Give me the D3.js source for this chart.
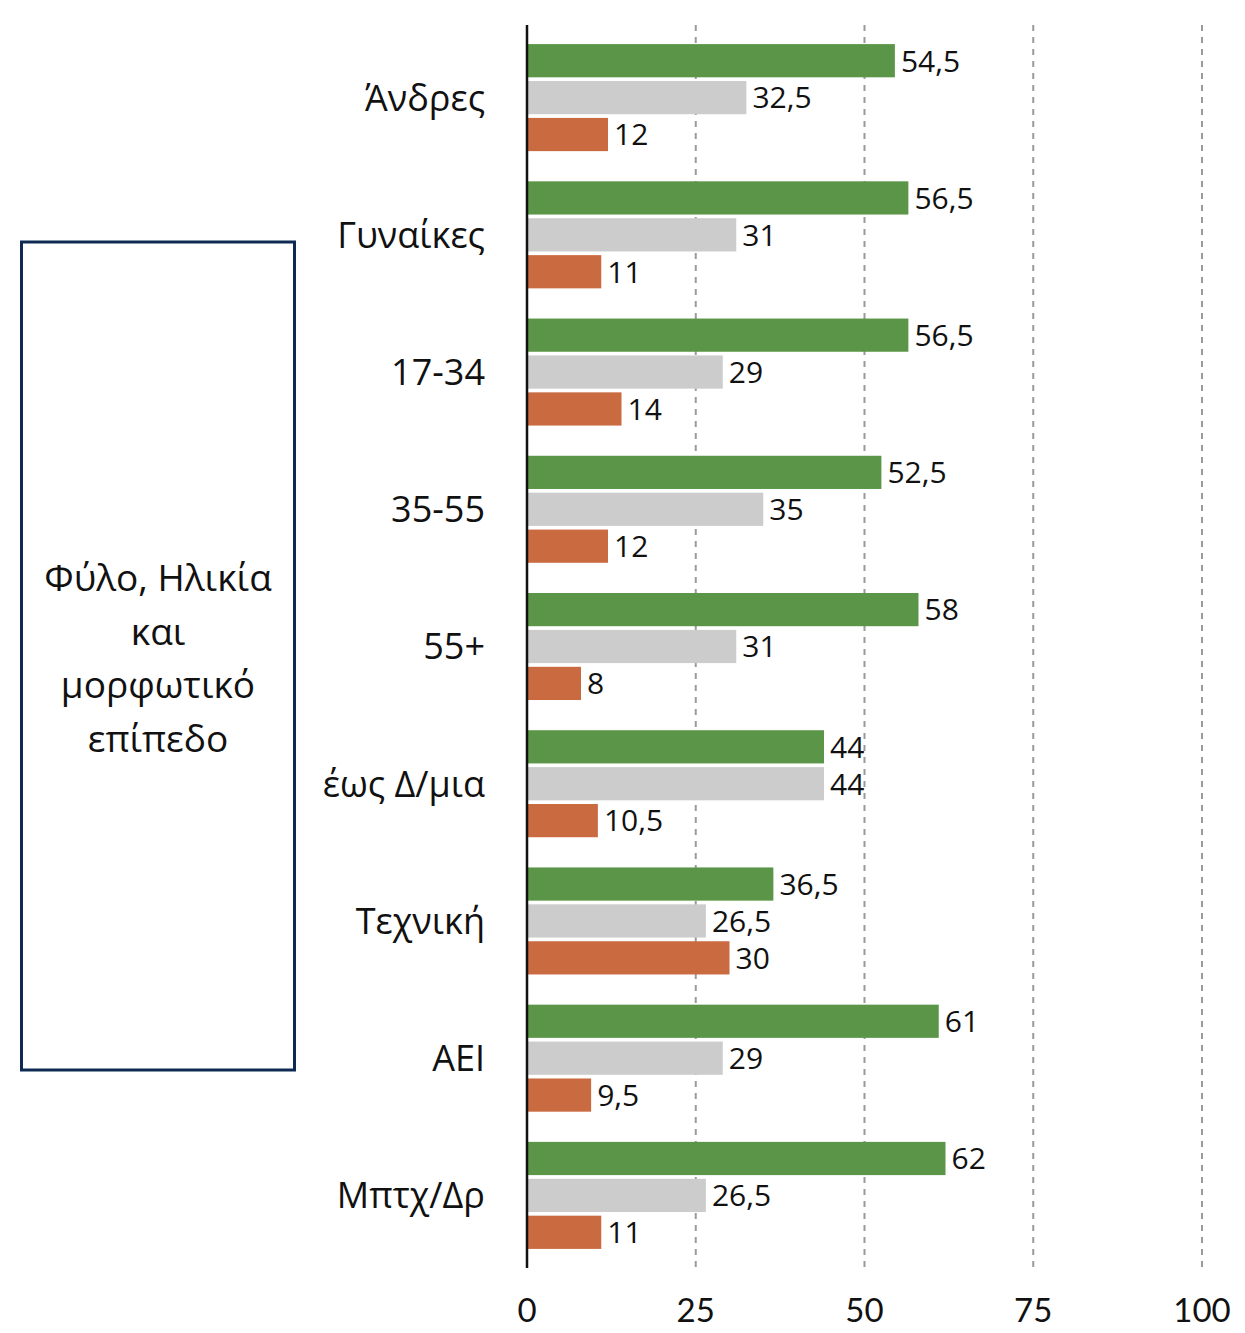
<!DOCTYPE html>
<html>
<head>
<meta charset="utf-8">
<script src="https://cdn.jsdelivr.net/npm/d3@7"></script>
<style>
  body { margin: 0; background: #fff; }
  text { font-family: "Open Sans", Lato, sans-serif; fill: #111; }
  text.tick { font-family: Lato, sans-serif; }
</style>
</head>
<body>
<div id="chart"></div>
<script>
var categories = ["Άνδρες", "Γυναίκες", "17-34", "35-55", "55+", "έως Δ/μια", "Τεχνική", "ΑΕΙ", "Μπτχ/Δρ"];
var series = ["a", "b", "c"];
var greenValues = [54.5, 56.5, 56.5, 52.5, 58, 44, 36.5, 61, 62];
var grayValues = [32.5, 31, 29, 35, 31, 44, 26.5, 29, 26.5];
var orangeValues = [12, 11, 14, 12, 8, 10.5, 30, 9.5, 11];
var ticks = [0, 25, 50, 75, 100];
var boxLines = ["Φύλο, Ηλικία", "και", "μορφωτικό", "επίπεδο"];

function draw() {
    var w = 1245;
    var h = 1333;
    var colors = { a: "#5b9648", b: "#cccccc", c: "#c96a40" };

    var svg = d3.select("#chart")
        .append("svg")
        .attr("width", w)
        .attr("height", h);

    var x = d3.scaleLinear().domain([0, 100]).range([527, 1202]);

    var y0 = d3.scaleBand()
        .domain(categories)
        .range([29, 1264])
        .paddingInner(0.22)
        .paddingOuter(0.11);

    var y1 = d3.scaleBand()
        .domain(series)
        .range([0, y0.bandwidth()])
        .paddingInner(0.1);

    // grid lines
    svg.selectAll(".grid")
        .data(ticks.slice(1))
        .enter()
        .append("line")
        .attr("x1", function (d) { return x(d); })
        .attr("x2", function (d) { return x(d); })
        .attr("y1", 25)
        .attr("y2", 1268)
        .attr("stroke", "#9a9a9a")
        .attr("stroke-width", 2)
        .attr("stroke-dasharray", "6,6");

    var rows = categories.map(function (c, i) {
        return { cat: c, vals: [
            { s: "a", v: greenValues[i] },
            { s: "b", v: grayValues[i] },
            { s: "c", v: orangeValues[i] }
        ] };
    });

    var fmt = function (v) { return String(v).replace(".", ","); };

    var g = svg.selectAll(".grp")
        .data(rows)
        .enter()
        .append("g")
        .attr("transform", function (d) { return "translate(0," + y0(d.cat) + ")"; });

    g.selectAll("rect")
        .data(function (d) { return d.vals; })
        .enter()
        .append("rect")
        .attr("x", x(0))
        .attr("y", function (d) { return y1(d.s); })
        .attr("width", function (d) { return x(d.v) - x(0); })
        .attr("height", y1.bandwidth())
        .attr("fill", function (d) { return colors[d.s]; });

    g.selectAll(".val")
        .data(function (d) { return d.vals; })
        .enter()
        .append("text")
        .attr("x", function (d) { return x(d.v) + 6; })
        .attr("y", function (d) { return y1(d.s) + y1.bandwidth() / 2; })
        .attr("dy", "0.36em")
        .attr("font-size", 30)
        .text(function (d) { return fmt(d.v); });

    // category labels
    svg.selectAll(".cat")
        .data(categories)
        .enter()
        .append("text")
        .attr("x", 485)
        .attr("y", function (d) { return y0(d) + y0.bandwidth() / 2; })
        .attr("dy", "0.36em")
        .attr("text-anchor", "end")
        .attr("font-size", 36)
        .text(function (d) { return d; });

    // axis line
    svg.append("line")
        .attr("x1", x(0)).attr("x2", x(0))
        .attr("y1", 25).attr("y2", 1268)
        .attr("stroke", "#111")
        .attr("stroke-width", 2.5);

    // tick labels
    svg.selectAll(".tick")
        .data(ticks)
        .enter()
        .append("text")
        .attr("class", "tick")
        .attr("x", function (d) { return x(d); })
        .attr("y", 1310)
        .attr("dy", "0.36em")
        .attr("text-anchor", "middle")
        .attr("font-size", 33)
        .text(function (d) { return d; });

    // side box
    svg.append("rect")
        .attr("x", 21.5).attr("y", 242)
        .attr("width", 273).attr("height", 828)
        .attr("fill", "none")
        .attr("stroke", "#0f2a52")
        .attr("stroke-width", 3);

    svg.selectAll(".box")
        .data(boxLines)
        .enter()
        .append("text")
        .attr("x", 158)
        .attr("y", function (d, i) { return 578 + i * 53.5; })
        .attr("dy", "0.36em")
        .attr("text-anchor", "middle")
        .attr("font-size", 37)
        .text(function (d) { return d; });
}

draw();
</script>
</body>
</html>
